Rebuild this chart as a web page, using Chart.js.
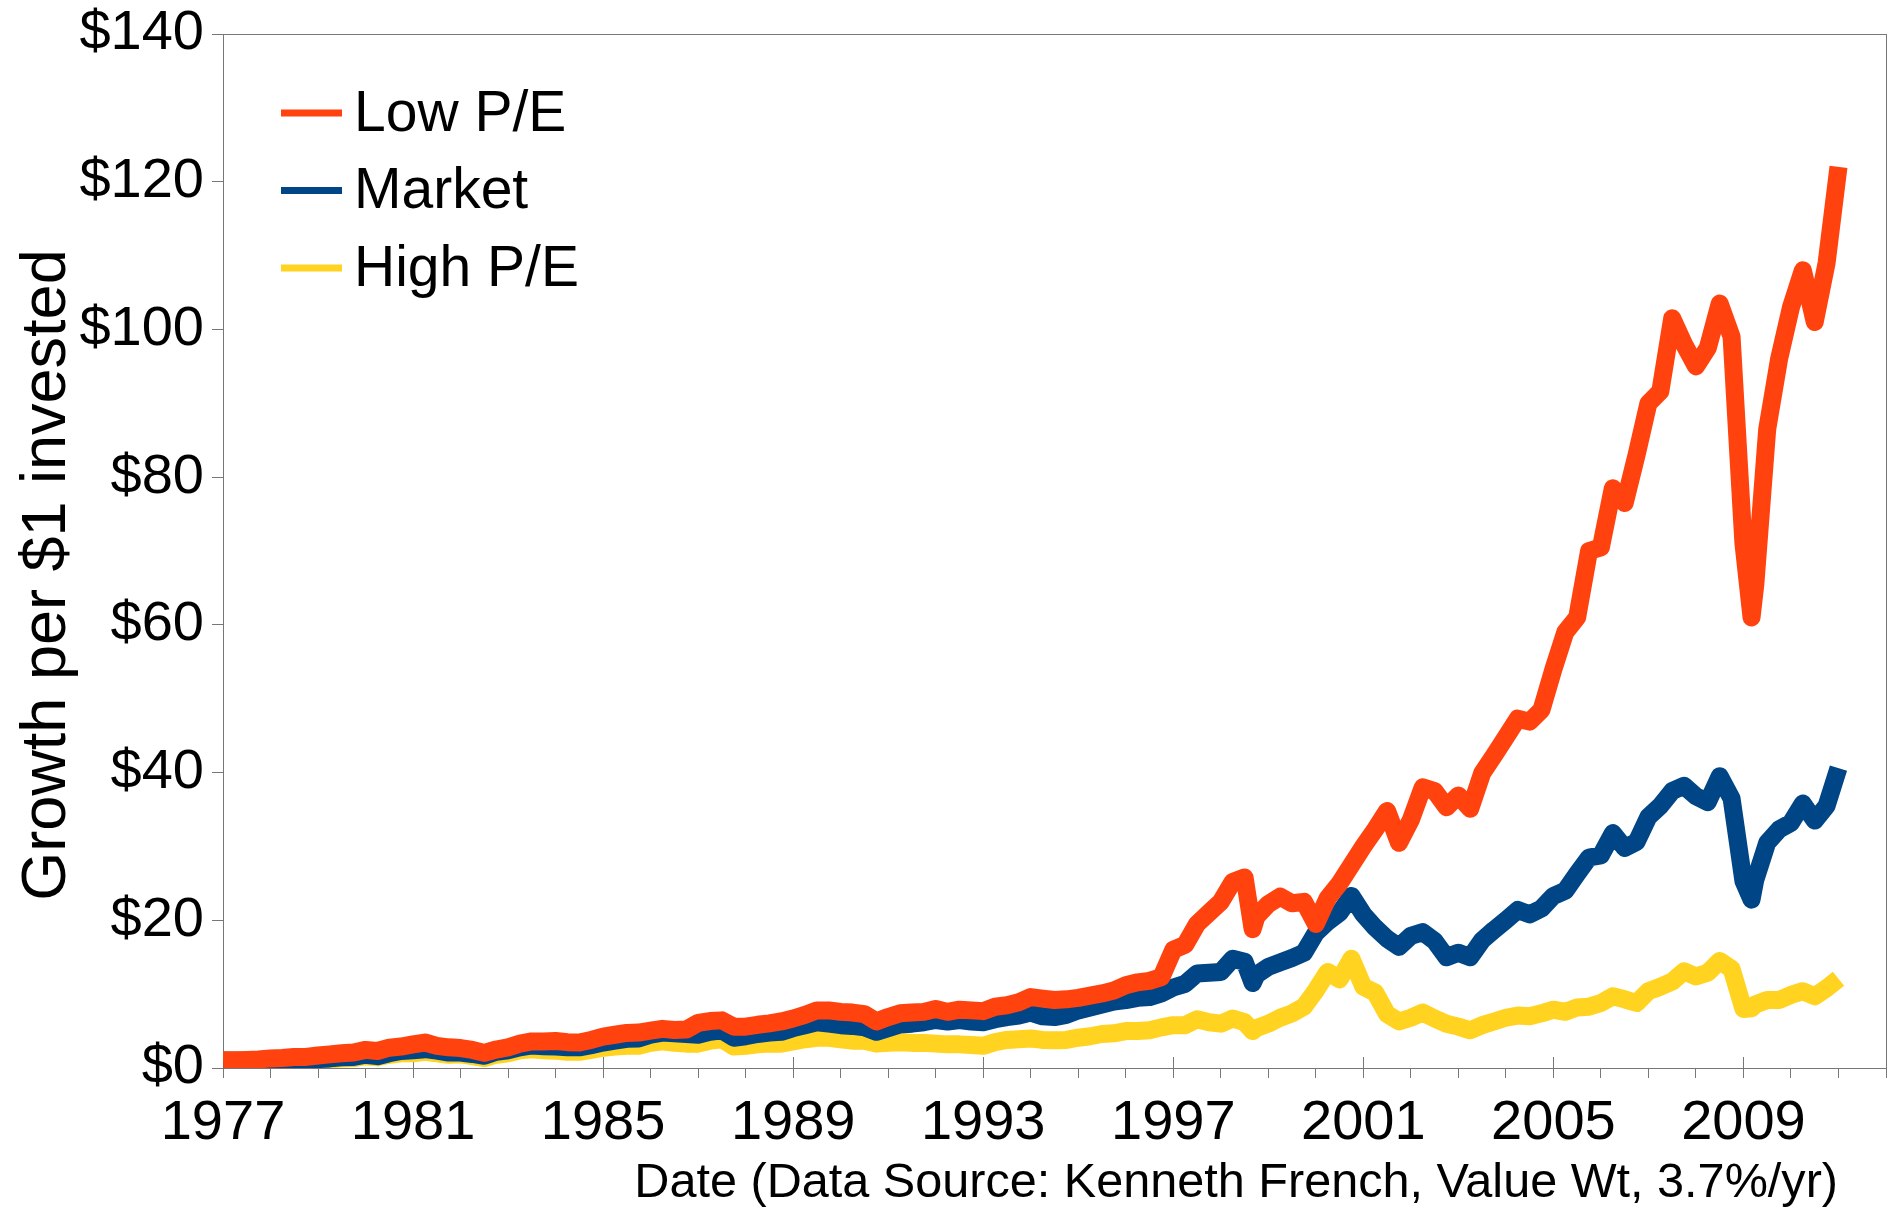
<!DOCTYPE html>
<html lang="en">
<head>
<meta charset="UTF-8" />
<title>Growth per $1 invested: Low P/E vs Market vs High P/E</title>
<style>
  body { margin: 0; background: #fff; }
  canvas { display: block; }
</style>
</head>
<body>
<canvas id="chart" width="1898" height="1209"></canvas>
<script src="https://cdn.jsdelivr.net/npm/chart.js"></script>
<script>
// dates as decimal years (quarterly, plus two extra points around sharp dips)
const dates = [
  1977.00, 1977.25, 1977.50, 1977.75,
  1978.00, 1978.25, 1978.50, 1978.75,
  1979.00, 1979.25, 1979.50, 1979.75,
  1980.00, 1980.25, 1980.50, 1980.75,
  1981.00, 1981.25, 1981.50, 1981.75,
  1982.00, 1982.25, 1982.50, 1982.75,
  1983.00, 1983.25, 1983.50, 1983.75,
  1984.00, 1984.25, 1984.50, 1984.75,
  1985.00, 1985.25, 1985.50, 1985.75,
  1986.00, 1986.25, 1986.50, 1986.75,
  1987.00, 1987.25, 1987.50, 1987.75,
  1988.00, 1988.25, 1988.50, 1988.75,
  1989.00, 1989.25, 1989.50, 1989.75,
  1990.00, 1990.25, 1990.50, 1990.75,
  1991.00, 1991.25, 1991.50, 1991.75,
  1992.00, 1992.25, 1992.50, 1992.75,
  1993.00, 1993.25, 1993.50, 1993.75,
  1994.00, 1994.25, 1994.50, 1994.75,
  1995.00, 1995.25, 1995.50, 1995.75,
  1996.00, 1996.25, 1996.50, 1996.75,
  1997.00, 1997.25, 1997.50, 1997.75,
  1998.00, 1998.25, 1998.50, 1998.67, 1998.75,
  1999.00, 1999.25, 1999.50, 1999.75,
  2000.00, 2000.25, 2000.50, 2000.75,
  2001.00, 2001.25, 2001.50, 2001.75,
  2002.00, 2002.25, 2002.50, 2002.75,
  2003.00, 2003.25, 2003.50, 2003.75,
  2004.00, 2004.25, 2004.50, 2004.75,
  2005.00, 2005.25, 2005.50, 2005.75,
  2006.00, 2006.25, 2006.50, 2006.75,
  2007.00, 2007.25, 2007.50, 2007.75,
  2008.00, 2008.25, 2008.50, 2008.75,
  2009.00, 2009.17, 2009.25, 2009.50, 2009.75,
  2010.00, 2010.25, 2010.50, 2010.75,
  2011.00
];

const lowPE = [
  1.0, 1.05, 1.1, 1.15,
  1.3, 1.35, 1.5, 1.5,
  1.7, 1.85, 2.0, 2.1,
  2.45, 2.3, 2.75, 2.9,
  3.2, 3.45, 3.0, 2.8,
  2.7, 2.45, 2.05, 2.5,
  2.8, 3.3, 3.6, 3.6,
  3.65, 3.5, 3.45, 3.8,
  4.25, 4.5, 4.75, 4.8,
  5.05, 5.3, 5.15, 5.2,
  6.1, 6.35, 6.45, 5.6,
  5.6, 5.85, 6.05, 6.3,
  6.7, 7.2, 7.8, 7.8,
  7.6, 7.5, 7.3, 6.3,
  6.9, 7.4, 7.5, 7.6,
  8.0, 7.6, 7.9, 7.8,
  7.7, 8.3, 8.5, 8.9,
  9.6, 9.4, 9.2, 9.3,
  9.5, 9.8, 10.1, 10.5,
  11.2, 11.6, 11.8, 12.3,
  16.0, 16.7, 19.5, 21.0,
  22.5, 25.2, 25.8, 18.8, 20.5,
  22.2, 23.2, 22.3, 22.5,
  19.5, 23.0, 25.0, 27.5,
  30.0, 32.3, 34.8, 30.5,
  33.6, 38.0, 37.5, 35.3,
  36.9, 35.1, 39.9, 42.3,
  44.8, 47.3, 46.9, 48.5,
  54.0, 59.0, 61.0, 70.0,
  70.5, 78.5, 76.5, 83.0,
  90.0, 91.6, 101.5, 98.0,
  95.0, 97.5, 103.5, 99.0,
  71.0, 61.0, 65.5, 86.5, 96.0,
  103.0, 108.0, 101.0, 109.0,
  122.0
];

const market = [
  1.0, 0.98, 0.95, 0.92,
  0.93, 1.0, 1.1, 1.05,
  1.2, 1.3, 1.45, 1.5,
  1.8, 1.6, 2.0, 2.3,
  2.4, 2.55, 2.35, 2.1,
  2.1, 1.9, 1.65, 2.2,
  2.4, 2.8, 3.05, 2.95,
  2.9, 2.8, 2.8, 3.1,
  3.45, 3.7, 3.95, 4.0,
  4.5, 4.8, 4.7, 4.6,
  4.5, 4.9, 5.1, 4.1,
  4.3, 4.6, 4.8, 4.9,
  5.4, 5.8, 6.2, 6.0,
  5.8, 5.7, 5.5, 4.9,
  5.4, 5.9, 6.0, 6.2,
  6.5, 6.3, 6.5, 6.3,
  6.2, 6.6, 6.9, 7.1,
  7.5, 7.0, 6.9, 7.2,
  7.8, 8.2, 8.6, 9.0,
  9.2, 9.5, 9.6, 10.1,
  10.9, 11.4, 12.8, 12.9,
  13.0, 14.8, 14.4, 11.5, 12.6,
  13.7, 14.3, 14.9, 15.6,
  18.3, 19.8, 21.0, 23.3,
  20.8, 19.0, 17.5, 16.4,
  17.9, 18.4, 17.2, 15.0,
  15.6, 15.0, 17.3, 18.7,
  20.0, 21.4, 20.8, 21.6,
  23.3, 24.0, 26.3, 28.5,
  28.8, 31.8, 29.8, 30.6,
  34.0, 35.5, 37.5, 38.2,
  36.8, 36.0, 39.5, 36.5,
  25.3, 22.8, 25.5, 30.5, 32.3,
  33.2, 35.8, 33.5, 35.5,
  40.6
];

const highPE = [
  1.0, 0.95, 0.9, 0.85,
  0.85, 0.9, 1.0, 0.95,
  1.05, 1.15, 1.3, 1.35,
  1.6, 1.45, 1.8, 2.0,
  2.0, 2.2, 2.0, 1.8,
  1.85, 1.6, 1.35, 1.8,
  2.0, 2.4, 2.55, 2.4,
  2.35, 2.2, 2.2, 2.45,
  2.75, 2.9, 3.0, 3.0,
  3.4, 3.6, 3.4, 3.3,
  3.3, 3.7, 3.9, 2.9,
  3.0, 3.2, 3.3, 3.3,
  3.6, 3.9, 4.1, 4.1,
  3.9, 3.7, 3.7, 3.3,
  3.4, 3.5, 3.4, 3.4,
  3.3, 3.2, 3.2, 3.1,
  3.0, 3.5, 3.8, 3.9,
  4.0, 3.8, 3.75, 3.8,
  4.1, 4.3, 4.6, 4.7,
  5.0, 5.0, 5.1, 5.5,
  5.8, 5.8, 6.6, 6.2,
  6.0, 6.7, 6.2, 5.0, 5.4,
  6.0, 6.8, 7.4, 8.3,
  10.5, 13.0, 12.0, 14.8,
  11.0, 10.2, 7.3, 6.3,
  6.8, 7.5, 6.7, 6.0,
  5.6, 5.1, 5.8, 6.3,
  6.8, 7.1, 7.0, 7.4,
  7.9, 7.6, 8.2, 8.3,
  8.8, 9.7, 9.3, 8.8,
  10.4, 11.0, 11.7, 13.1,
  12.4, 12.9, 14.5, 13.4,
  8.0, 8.1, 8.6, 9.2, 9.2,
  9.9, 10.4, 9.7, 10.8,
  12.1
];

const seriesNames = ['Low P/E', 'Market', 'High P/E'];
const seriesColors = ['#ff420e', '#004586', '#ffd320'];
const yearLabels = [1977, 1981, 1985, 1989, 1993, 1997, 2001, 2005, 2009];
const yTicks = [0, 20, 40, 60, 80, 100, 120, 140];

const axisColor = '#777777';
const fontFamily = "'Liberation Sans', Arial, sans-serif";
Chart.defaults.font.family = fontFamily;
Chart.defaults.color = '#000';

// frame, inward major ticks, legend, axis titles
const decorations = {
  id: 'decorations',
  beforeDatasetsDraw(chart) {
    const { ctx, chartArea: a, scales: { x } } = chart;
    ctx.save();
    ctx.strokeStyle = axisColor;
    ctx.lineWidth = 1;
    ctx.strokeRect(a.left + 0.5, a.top + 0.5, a.right - a.left, a.bottom - a.top);
    yearLabels.forEach(yr => {
      const px = Math.round(x.getPixelForValue(yr)) + 0.5;
      ctx.beginPath();
      ctx.moveTo(px, a.bottom);
      ctx.lineTo(px, a.bottom - 11);
      ctx.stroke();
    });
    ctx.restore();
  },
  afterDraw(chart) {
    const ctx = chart.ctx;
    ctx.save();
    // legend
    ctx.font = '57px ' + fontFamily;
    ctx.textBaseline = 'middle';
    ctx.textAlign = 'left';
    seriesNames.forEach((name, i) => {
      const cy = 113 + i * 77.5;
      ctx.strokeStyle = seriesColors[i];
      ctx.lineWidth = 7;
      ctx.beginPath();
      ctx.moveTo(281, cy);
      ctx.lineTo(342, cy);
      ctx.stroke();
      ctx.fillStyle = '#000';
      ctx.fillText(name, 354, cy + 2);
    });
    // y axis title
    ctx.save();
    ctx.translate(65, 575);
    ctx.rotate(-Math.PI / 2);
    ctx.textAlign = 'center';
    ctx.textBaseline = 'alphabetic';
    ctx.font = '63px ' + fontFamily;
    ctx.fillText('Growth per $1 invested', 0, 0);
    ctx.restore();
    // x axis title
    ctx.textAlign = 'right';
    ctx.textBaseline = 'alphabetic';
    ctx.font = '48.6px ' + fontFamily;
    ctx.fillText('Date (Data Source: Kenneth French, Value Wt, 3.7%/yr)', 1838, 1197);
    ctx.restore();
  }
};

const makeSeries = values => dates.map((d, i) => ({ x: d, y: values[i] }));

new Chart(document.getElementById('chart'), {
  type: 'line',
  data: {
    datasets: [lowPE, market, highPE].map((vals, i) => ({
      label: seriesNames[i],
      data: makeSeries(vals),
      borderColor: seriesColors[i],
      backgroundColor: seriesColors[i],
      borderWidth: 18,
      borderJoinStyle: 'round',
      borderCapStyle: 'butt',
      pointRadius: 0,
      tension: 0,
      fill: false
    }))
  },
  options: {
    responsive: false,
    animation: false,
    devicePixelRatio: 1,
    layout: { padding: { top: 34, right: 12, bottom: 0, left: 0 } },
    plugins: {
      legend: { display: false },
      tooltip: { enabled: false }
    },
    scales: {
      x: {
        type: 'linear',
        min: 1977,
        max: 2012,
        border: { color: axisColor, width: 1 },
        grid: { drawOnChartArea: false, tickLength: 10, color: axisColor },
        ticks: {
          stepSize: 1,
          autoSkip: false,
          maxRotation: 0,
          padding: 12,
          font: { size: 56 },
          color: '#000',
          callback: v => yearLabels.includes(v) ? String(v) : ''
        },
        afterFit: s => { s.height = 141; s.paddingLeft = 0; s.paddingRight = 0; }
      },
      y: {
        min: 0,
        max: 140,
        border: { color: axisColor, width: 1 },
        grid: { drawOnChartArea: false, tickLength: 11, color: axisColor },
        ticks: {
          stepSize: 20,
          padding: 8,
          font: { size: 56 },
          color: '#000',
          callback: v => yTicks.includes(v) ? '$' + v : ''
        },
        afterFit: s => { s.width = 223; s.paddingTop = 0; s.paddingBottom = 0; }
      }
    }
  },
  plugins: [decorations]
});
</script>
</body>
</html>
